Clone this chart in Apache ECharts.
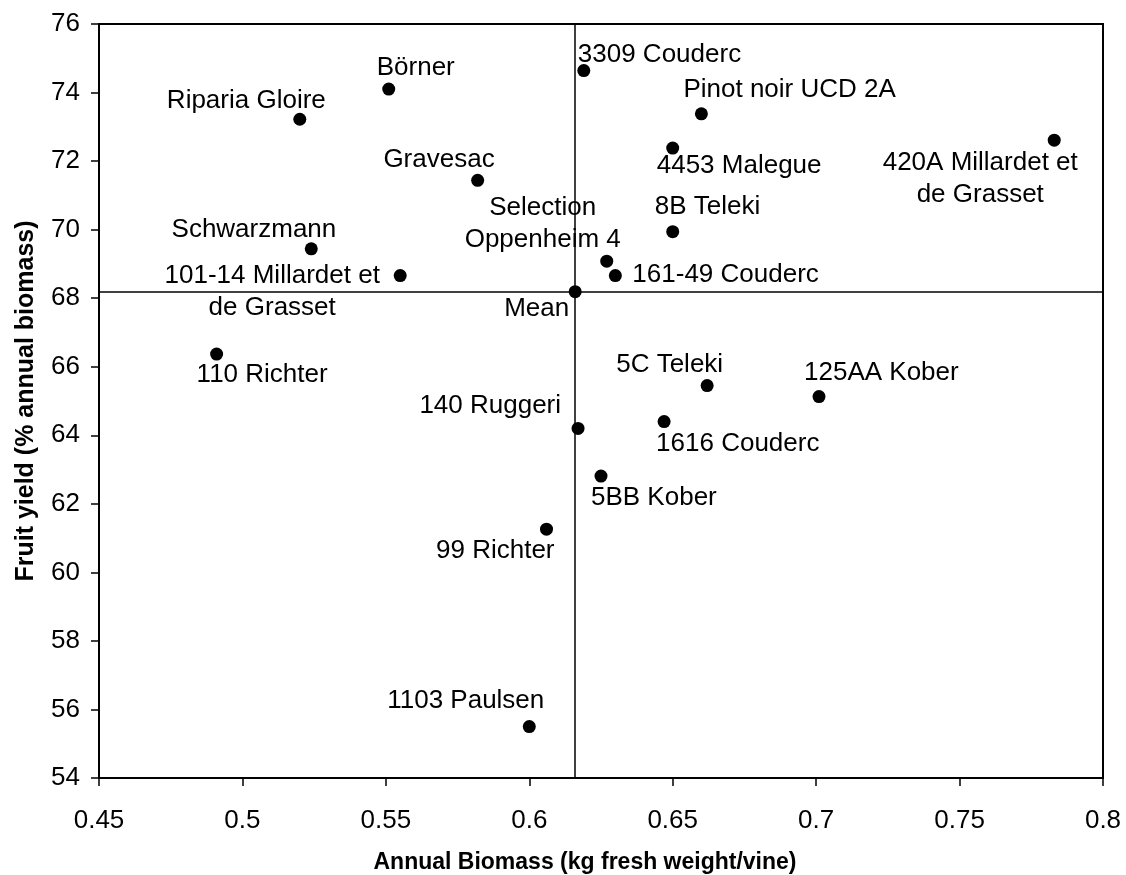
<!DOCTYPE html>
<html>
<head>
<meta charset="utf-8">
<title>Fruit yield vs annual biomass</title>
<script src="https://cdn.jsdelivr.net/npm/echarts@6/dist/echarts.min.js"></script>
<style>
    html, body { margin: 0; padding: 0; background: #fff; }
    #chart { width: 1126px; height: 875px; }
</style>
</head>
<body>
<div id="chart"></div>
<script>
// rootstocks, as printed beside each point ("Mean" is the cross of the two mean lines)
var cultivars = [
    'Riparia Gloire', 'Börner', 'Gravesac', 'Schwarzmann',
    '101-14 Millardet et\nde Grasset', '110 Richter', '3309 Couderc',
    'Pinot noir UCD 2A', '4453 Malegue', '420A Millardet et\nde Grasset',
    '8B Teleki', 'Selection\nOppenheim 4', '161-49 Couderc', 'Mean',
    '5C Teleki', '125AA Kober', '1616 Couderc', '140 Ruggeri',
    '5BB Kober', '99 Richter', '1103 Paulsen'
];
// annual biomass (kg fresh weight/vine)
var biomass = [
    0.520, 0.551, 0.582, 0.524,
    0.555, 0.491, 0.619,
    0.660, 0.650, 0.783,
    0.650, 0.627, 0.630, 0.616,
    0.662, 0.701, 0.647, 0.617,
    0.625, 0.606, 0.600
];
// fruit yield (% annual biomass)
var fruitYield = [
    73.22, 74.10, 71.44, 69.44,
    68.66, 66.37, 74.64,
    73.38, 72.38, 72.61,
    69.94, 69.08, 68.66, 68.19,
    65.45, 65.13, 64.40, 64.20,
    62.81, 61.26, 55.50
];
var xRange = [0.45, 0.8], xStep = 0.05;
var yRange = [54, 76], yStep = 2;

// where each label sits against its dot: [dx, dy, align]
var labelLayout = [
    [26, -18, 'right'], [-12, -21, 'left'], [17, -20, 'right'], [25, -19, 'right'],
    [-128, 16, 'center'], [-20, 21, 'left'], [-6, -16, 'left'],
    [-18, -24, 'left'], [-16, 18, 'left'], [-74, 39, 'center'],
    [-18, -25, 'left'], [-64, -37, 'center'], [17, -1, 'left'], [-6, 17, 'right'],
    [16, -21, 'right'], [-15, -24, 'left'], [-8, 22, 'left'], [-17, -23, 'right'],
    [-10, 22, 'left'], [8, 22, 'right'], [15, -26, 'right']
];

var meanIdx = cultivars.indexOf('Mean');

var points = cultivars.map(function (name, i) {
    var lay = labelLayout[i];
    return {
        name: name,
        value: [biomass[i], fruitYield[i]],
        label: { offset: [lay[0], lay[1]], align: lay[2] }
    };
});

var chart = echarts.init(document.getElementById('chart'));

var axisCommon = {
    type: 'value',
    nameLocation: 'middle',
    axisLine: { lineStyle: { color: '#000', width: 2 } },
    axisTick: { show: true, length: 8, lineStyle: { color: '#000', width: 1.5 } },
    splitLine: { show: false },
    showMinLabel: true,
    showMaxLabel: true
};

chart.setOption({
    animation: false,
    backgroundColor: '#fff',
    textStyle: { fontFamily: 'Liberation Sans, Arial, Helvetica, sans-serif' },
    grid: {
        left: 99, right: 23, top: 24, bottom: 97,
        outerBoundsMode: 'none',
        show: true, borderColor: '#000', borderWidth: 2
    },
    xAxis: Object.assign({}, axisCommon, {
        min: xRange[0], max: xRange[1], interval: xStep,
        name: 'Annual Biomass (kg fresh weight/vine)',
        nameGap: 73,
        nameTextStyle: { fontSize: 23, fontWeight: 'bold', color: '#000', padding: [0, 32, 0, 0] },
        axisLabel: { fontSize: 26, color: '#000', margin: 30 }
    }),
    yAxis: Object.assign({}, axisCommon, {
        min: yRange[0], max: yRange[1], interval: yStep,
        name: 'Fruit yield (% annual biomass)',
        nameGap: 60,
        nameTextStyle: { fontSize: 25, fontWeight: 'bold', color: '#000' },
        axisLabel: { fontSize: 26, color: '#000', margin: 19 }
    }),
    series: [{
        type: 'scatter',
        symbol: 'circle',
        symbolSize: 13,
        itemStyle: { color: '#000', opacity: 1 },
        emphasis: { disabled: true },
        label: {
            show: true,
            position: 'inside',
            verticalAlign: 'middle',
            fontSize: 26,
            lineHeight: 32,
            color: '#000',
            formatter: '{b}'
        },
        data: points,
        markLine: {
            silent: true,
            precision: 4,
            symbol: ['none', 'none'],
            label: { show: false },
            lineStyle: { color: '#000', width: 1.5, type: 'solid' },
            data: [
                { xAxis: biomass[meanIdx] },
                { yAxis: fruitYield[meanIdx] }
            ]
        }
    }]
});
</script>
</body>
</html>
